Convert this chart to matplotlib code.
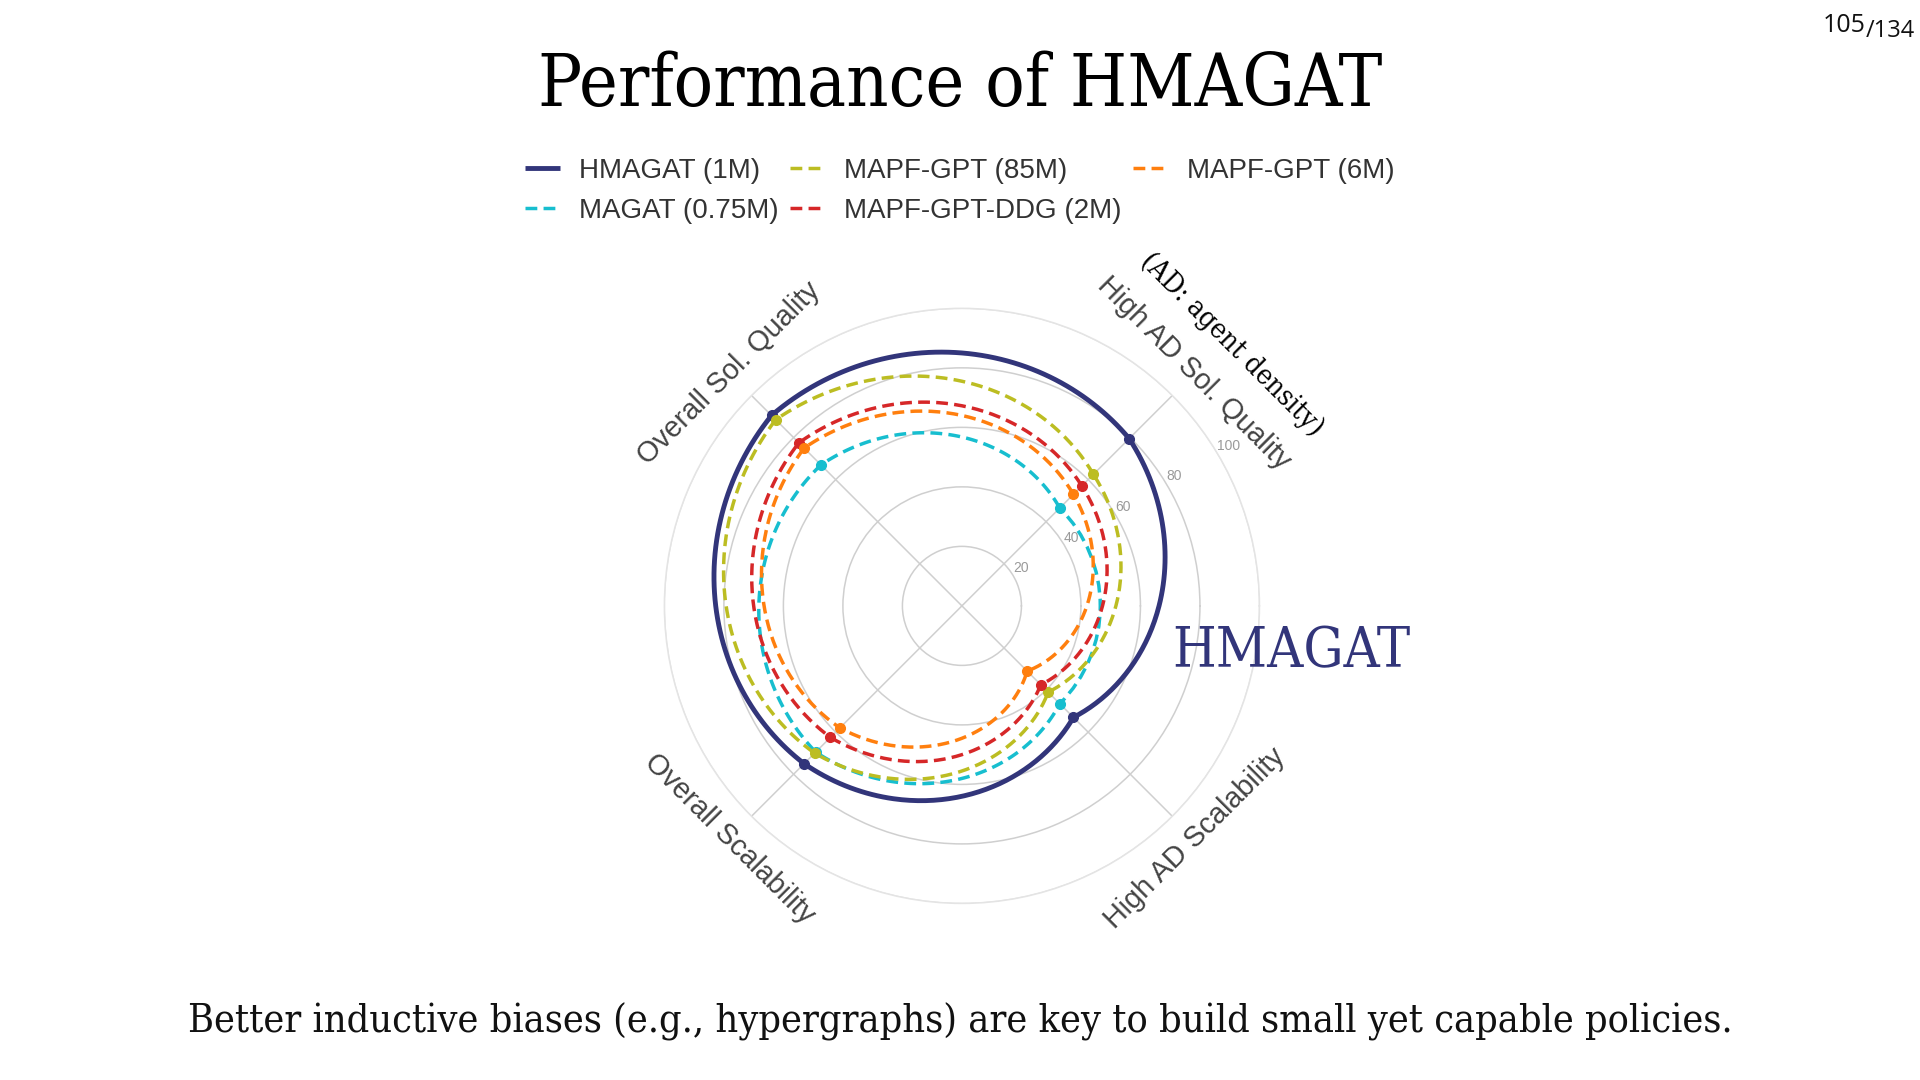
import numpy as np
import matplotlib.pyplot as plt
from matplotlib import font_manager

# radar categories and the angle (deg) of each spoke
categories = ["High AD Sol. Quality", "Overall Sol. Quality",
              "Overall Scalability", "High AD Scalability"]
category_angles = [45, 135, 225, 315]

# series (same order as categories)
series_labels = ["HMAGAT (1M)", "MAGAT (0.75M)", "MAPF-GPT (85M)",
                 "MAPF-GPT-DDG (2M)", "MAPF-GPT (6M)"]
hmagat = [79.5, 90.5, 75, 53]
magat = [46.5, 67, 69.5, 46.5]
mapf_gpt_85m = [62.5, 88.5, 70, 41]
mapf_gpt_ddg = [57, 77.5, 62.5, 37.5]
mapf_gpt_6m = [53, 75, 58, 31]

radial_ticks = [20, 40, 60, 80, 100]

NAVY = "#32357a"
colors = [NAVY, "#17becf", "#bcbd22", "#d62728", "#ff7f0e"]

# fonts: prefer narrow / condensed variants when they are installed
installed = {(f.name, f.stretch) for f in font_manager.fontManager.ttflist}
names = {n for n, _ in installed}
serif_condensed = (("DejaVu Serif", "condensed") in installed
                   or ("DejaVu Serif", "semi-condensed") in installed)
SERIF = dict(family="DejaVu Serif", stretch="condensed" if serif_condensed else "normal")
sq = 1.18 if serif_condensed else 1.0   # size factor for the serif texts

if "Liberation Sans Narrow" in names:
    SANS, leg_size = "Liberation Sans Narrow", 24
else:
    SANS, leg_size = "Liberation Sans", 20
plt.rcParams["font.family"] = ["Liberation Sans", "DejaVu Sans"]

fig = plt.figure(figsize=(19.2, 10.8), dpi=100)
ax = fig.add_axes([0.346, 0.1635, 0.31, 0.551], projection="polar")

theta = np.deg2rad(category_angles + [category_angles[0] + 360])
all_series = [hmagat, magat, mapf_gpt_85m, mapf_gpt_ddg, mapf_gpt_6m]
handles = []
for i, (vals, lab, col) in enumerate(zip(all_series, series_labels, colors)):
    r = vals + vals[:1]
    if i == 0:
        line, = ax.plot(theta, r, color=col, lw=3.5, label=lab, zorder=10,
                        solid_capstyle="butt")
    else:
        line, = ax.plot(theta, r, color=col, lw=2.5, ls=(0, (3.4, 1.8)),
                        label=lab, zorder=5 + i)
    # draw segments as spirals (linear in angle and radius) like the source chart
    line.get_path()._interpolation_steps = 120
    handles.append(line)
    ax.plot(np.deg2rad(category_angles), vals, "o", color=col, ms=7,
            mec=col, zorder=11 + i)

ax.set_xlim(0, 2 * np.pi)
ax.set_ylim(0, 100)
ax.set_thetagrids(category_angles, labels=[""] * 4)
ax.set_rgrids(radial_ticks, angle=31, fontsize=10, color="#9a9a9a")
ax.grid(True, color="#cfcfcf", lw=1.1)
ax.spines["polar"].set_color("#e4e4e4")
ax.spines["polar"].set_linewidth(1.1)
ax.yaxis.get_major_ticks()[-1].gridline.set_color("#e4e4e4")
ax.tick_params(axis="y", pad=0)

for cat, ang in zip(categories, category_angles):
    rot = ang - 90 if np.sin(np.deg2rad(ang)) > 0 else ang - 270
    ax.text(np.deg2rad(ang), 110.5, cat, rotation=rot, rotation_mode="anchor",
            ha="center", va="center", fontsize=20.7, color="#444444")

fig.legend(handles=handles, loc="center", bbox_to_anchor=(0.5, 0.8235), ncol=3,
           frameon=False, handlelength=1.25, handletextpad=0.7,
           columnspacing=0.4, labelspacing=0.5,
           prop=dict(family=SANS, size=leg_size), labelcolor="#333333")

# slide texts
fig.text(0.5, 0.902, "Performance of HMAGAT", ha="center", va="baseline",
         fontsize=44.6 * sq, color="black", **SERIF)
fig.text(0.5, 0.0444,
         "Better inductive biases (e.g., hypergraphs) are key to build small yet capable policies.",
         ha="center", va="baseline", fontsize=24 * sq, color="#111111", **SERIF)
fig.text(0.6104, 0.396, "HMAGAT", ha="left", va="center",
         fontsize=34 * sq, color=NAVY, **SERIF)
fig.text(0.6415, 0.681, "(AD: agent density)", ha="center", va="center",
         rotation=-45, fontsize=17.0 * sq, color="black", **SERIF)
fig.text(0.9717, 0.9704, "105", ha="right", va="baseline", fontsize=18,
         family="Open Sans", color="#111111")
fig.text(0.9717, 0.9660, "/134", ha="left", va="baseline", fontsize=17,
         family="Open Sans", color="#111111")

fig.savefig("out.png", dpi=100, facecolor="white")
